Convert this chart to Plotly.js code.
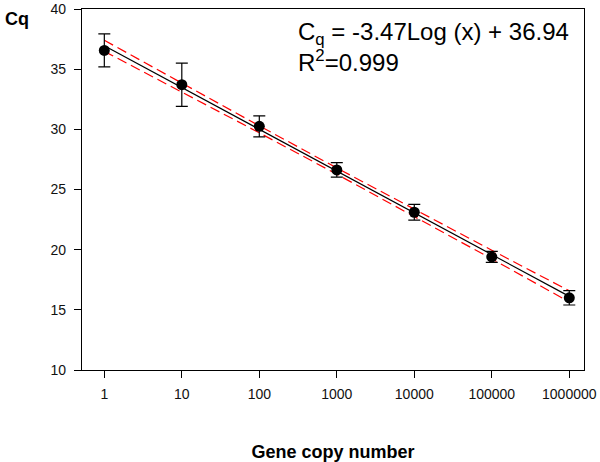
<!DOCTYPE html>
<html>
<head>
<meta charset="utf-8">
<script src="https://cdn.plot.ly/plotly-3.0.1.min.js"></script>
<style>html,body{margin:0;padding:0;background:#fff}#chart{width:600px;height:462px}</style>
</head>
<body>
<div id="chart"></div>
<script>
// Data
const copyNumbers = [1, 10, 100, 1000, 10000, 100000, 1000000];
const cqMeans = [36.56, 33.71, 30.25, 26.63, 23.11, 19.40, 16.00];
const cqErrors = [1.37, 1.80, 0.87, 0.60, 0.65, 0.45, 0.60];
const fitX = [1, 1000000];
const fitY = [36.94, 16.12];
const bandUpper = [37.40, 33.83, 30.29, 26.79, 23.35, 19.95, 16.58];
const bandLower = [36.48, 33.11, 29.71, 26.27, 22.77, 19.23, 15.66];
const xTickVals = [1, 10, 100, 1000, 10000, 100000, 1000000];
const xTickText = ['1', '10', '100', '1000', '10000', '100000', '1000000'];
const yTickVals = [10, 15, 20, 25, 30, 35, 40];

const FONT = 'Arial, "Liberation Sans", sans-serif';

const traces = [
  {x: copyNumbers, y: bandUpper, type: 'scatter', mode: 'lines',
   line: {color: '#ff0000', width: 1.2, dash: '10px,5px'}, hoverinfo: 'skip', showlegend: false},
  {x: copyNumbers, y: bandLower, type: 'scatter', mode: 'lines',
   line: {color: '#ff0000', width: 1.2, dash: '10px,5px'}, hoverinfo: 'skip', showlegend: false},
  {x: fitX, y: fitY, type: 'scatter', mode: 'lines',
   line: {color: '#000000', width: 1.2}, showlegend: false},
  {x: copyNumbers, y: cqMeans, type: 'scatter', mode: 'markers',
   marker: {color: '#000000', size: 11},
   error_y: {type: 'data', array: cqErrors, visible: true, color: '#000000', thickness: 1.2, width: 6},
   showlegend: false}
];

const layout = {
  width: 600, height: 462,
  margin: {l: 82, r: 16, t: 9, b: 91.5, pad: 0},
  paper_bgcolor: '#ffffff', plot_bgcolor: '#ffffff',
  showlegend: false,
  font: {family: FONT, color: '#111111', size: 14},
  xaxis: {
    type: 'log', range: [-0.288, 6.19],
    tickmode: 'array', tickvals: xTickVals, ticktext: xTickText,
    ticks: 'outside', ticklen: 7, tickwidth: 1, tickcolor: '#000',
    showline: true, linecolor: '#000', linewidth: 1.2, mirror: true,
    showgrid: false, zeroline: false,
    tickfont: {family: FONT, size: 14, color: '#111'},
    ticklabelstandoff: 4,
    title: {text: '<b>Gene copy number</b>', font: {family: FONT, size: 18, color: '#000'}, standoff: 45}
  },
  yaxis: {
    range: [10, 40],
    tickmode: 'array', tickvals: yTickVals,
    ticks: 'outside', ticklen: 7, tickwidth: 1, tickcolor: '#000',
    showline: true, linecolor: '#000', linewidth: 1.2, mirror: true,
    showgrid: false, zeroline: false,
    tickfont: {family: FONT, size: 14, color: '#111'},
    ticklabelstandoff: 5
  },
  annotations: [
    {text: '<b>Cq</b>', xref: 'paper', yref: 'paper', x: -0.158, y: 1.0, xanchor: 'left', yanchor: 'middle',
     yshift: -10, showarrow: false, font: {family: FONT, size: 18, color: '#000'}},
    {text: 'C<sub>q</sub> = -3.47Log (x) + 36.94', xref: 'paper', yref: 'paper', x: 0.426, y: 1.0,
     xanchor: 'left', yanchor: 'middle', yshift: -24, showarrow: false,
     font: {family: FONT, size: 24, color: '#000'}},
    {text: 'R<sup>2</sup>=0.999', xref: 'paper', yref: 'paper', x: 0.426, y: 1.0,
     xanchor: 'left', yanchor: 'middle', yshift: -52, showarrow: false,
     font: {family: FONT, size: 24, color: '#000'}}
  ]
};

Plotly.newPlot('chart', traces, layout, {displayModeBar: false, staticPlot: true});
</script>
</body>
</html>
